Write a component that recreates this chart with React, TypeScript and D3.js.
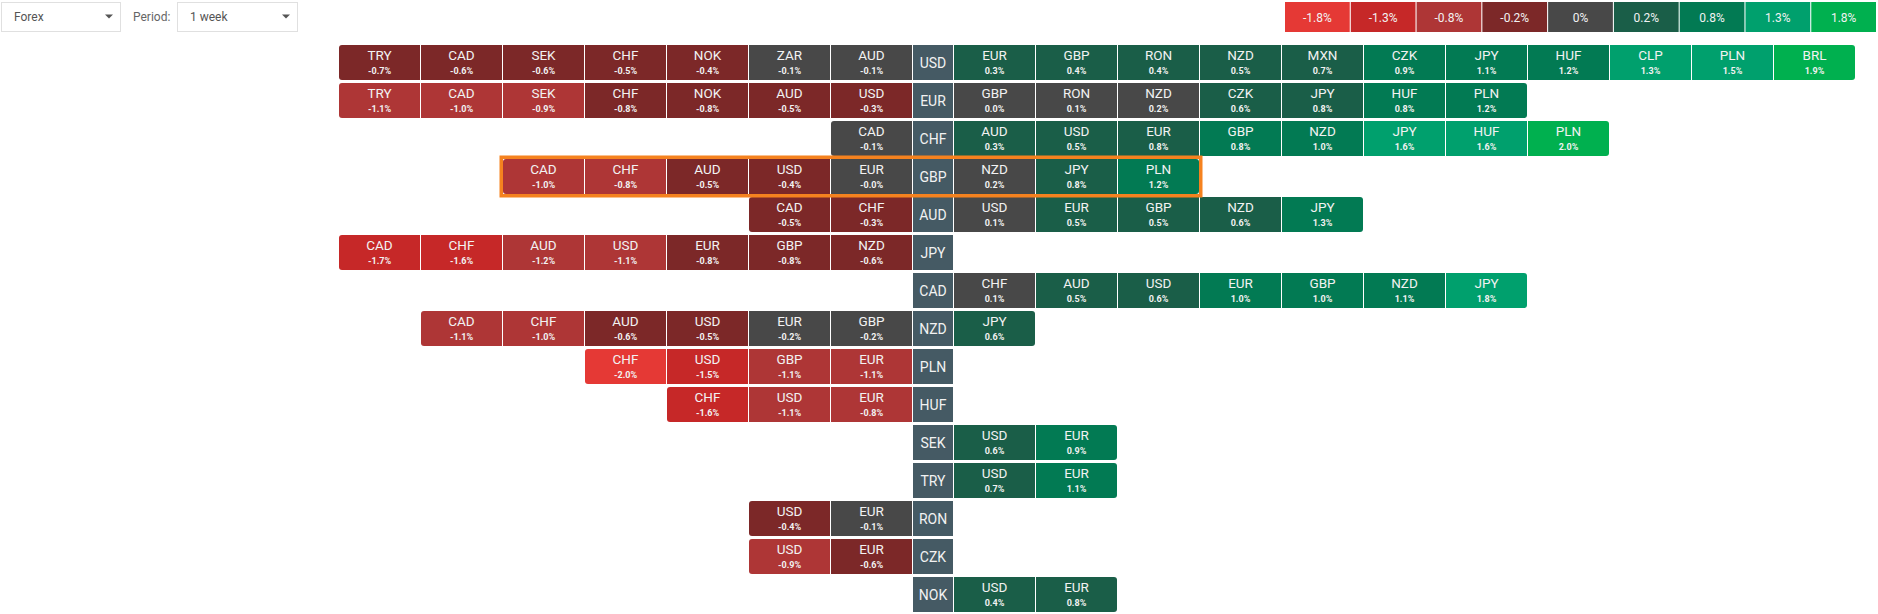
import React, { useEffect } from 'react';
import * as d3 from 'd3';

// ---------- DATA ----------
const rowCurrencies = ['USD', 'EUR', 'CHF', 'GBP', 'AUD', 'JPY', 'CAD', 'NZD', 'PLN', 'HUF', 'SEK', 'TRY', 'RON', 'CZK', 'NOK'];

const usdNames = ['TRY', 'CAD', 'SEK', 'CHF', 'NOK', 'ZAR', 'AUD', 'EUR', 'GBP', 'RON', 'NZD', 'MXN', 'CZK', 'JPY', 'HUF', 'CLP', 'PLN', 'BRL'];
const usdValues = [-0.7, -0.6, -0.6, -0.5, -0.4, -0.1, -0.1, 0.3, 0.4, 0.4, 0.5, 0.7, 0.9, 1.1, 1.2, 1.32, 1.5, 1.9];

const eurNames = ['TRY', 'CAD', 'SEK', 'CHF', 'NOK', 'AUD', 'USD', 'GBP', 'RON', 'NZD', 'CZK', 'JPY', 'HUF', 'PLN'];
const eurValues = [-1.1, -1.0, -0.9, -0.78, -0.77, -0.5, -0.3, 0.02, 0.1, 0.2, 0.6, 0.78, 0.82, 1.2];

const chfNames = ['CAD', 'AUD', 'USD', 'EUR', 'GBP', 'NZD', 'JPY', 'HUF', 'PLN'];
const chfValues = [-0.1, 0.3, 0.5, 0.78, 0.82, 1.0, 1.6, 1.62, 2.0];

const gbpNames = ['CAD', 'CHF', 'AUD', 'USD', 'EUR', 'NZD', 'JPY', 'PLN'];
const gbpValues = [-1.0, -0.82, -0.5, -0.4, -0.04, 0.2, 0.78, 1.2];

const audNames = ['CAD', 'CHF', 'USD', 'EUR', 'GBP', 'NZD', 'JPY'];
const audValues = [-0.5, -0.3, 0.1, 0.5, 0.5, 0.6, 1.28];

const jpyNames = ['CAD', 'CHF', 'AUD', 'USD', 'EUR', 'GBP', 'NZD'];
const jpyValues = [-1.7, -1.6, -1.2, -1.1, -0.78, -0.77, -0.6];

const cadNames = ['CHF', 'AUD', 'USD', 'EUR', 'GBP', 'NZD', 'JPY'];
const cadValues = [0.1, 0.5, 0.6, 1.0, 1.0, 1.1, 1.78];

const nzdNames = ['CAD', 'CHF', 'AUD', 'USD', 'EUR', 'GBP', 'JPY'];
const nzdValues = [-1.1, -1.0, -0.6, -0.5, -0.2, -0.2, 0.6];

const plnNames = ['CHF', 'USD', 'GBP', 'EUR'];
const plnValues = [-2.0, -1.5, -1.1, -1.1];

const hufNames = ['CHF', 'USD', 'EUR'];
const hufValues = [-1.6, -1.1, -0.82];

const sekNames = ['USD', 'EUR'];
const sekValues = [0.6, 0.9];

const tryNames = ['USD', 'EUR'];
const tryValues = [0.7, 1.1];

const ronNames = ['USD', 'EUR'];
const ronValues = [-0.4, -0.1];

const czkNames = ['USD', 'EUR'];
const czkValues = [-0.9, -0.6];

const nokNames = ['USD', 'EUR'];
const nokValues = [0.4, 0.78];

const rowNames = [usdNames, eurNames, chfNames, gbpNames, audNames, jpyNames, cadNames, nzdNames, plnNames, hufNames, sekNames, tryNames, ronNames, czkNames, nokNames];
const rowValues = [usdValues, eurValues, chfValues, gbpValues, audValues, jpyValues, cadValues, nzdValues, plnValues, hufValues, sekValues, tryValues, ronValues, czkValues, nokValues];

const legendLabels = ['-1.8%', '-1.3%', '-0.8%', '-0.2%', '0%', '0.2%', '0.8%', '1.3%', '1.8%'];
const colorThresholds = [-1.8, -1.3, -0.8, -0.25, 0.25, 0.8, 1.3, 1.8];
const palette = ['#e53935', '#c62828', '#ae3636', '#7c2828', '#484848', '#1a5e48', '#027a53', '#00a06d', '#00b04f'];

const highlightedRow = 'GBP';

// ---------- LAYOUT ----------
const W = 1878;
const H = 614;
const LABEL_X = 913;
const LABEL_W = 40;
const CELL_W = 81;
const STEP = 82;
const R = 3;

const color = d3.scaleThreshold<number, string>().domain(colorThresholds).range(palette);
const yScale = d3.scaleBand<string>().domain(rowCurrencies).range([45, 45 + 15 * 38 - 3]).paddingInner(3 / 38);
const colX = d3.scaleLinear().domain([0, 1]).range([LABEL_X + LABEL_W + 1, LABEL_X + LABEL_W + 1 + STEP]);
const legendX = d3.scaleBand<string>().domain(legendLabels).range([1285, 1876]).paddingInner(0.016);

function cellPath(x: number, y: number, w: number, h: number, rl: number, rr: number) {
  const p = d3.path();
  p.moveTo(x + rl, y);
  p.lineTo(x + w - rr, y);
  if (rr) p.arcTo(x + w, y, x + w, y + rr, rr);
  p.lineTo(x + w, y + h - rr);
  if (rr) p.arcTo(x + w, y + h, x + w - rr, y + h, rr);
  p.lineTo(x + rl, y + h);
  if (rl) p.arcTo(x, y + h, x, y + h - rl, rl);
  p.lineTo(x, y + rl);
  if (rl) p.arcTo(x, y, x + rl, y, rl);
  p.closePath();
  return p.toString();
}

const FONT = 'Roboto, "Noto Sans", Arial, sans-serif';
const TEXT = '#f2f2f2';

function Dropdown({ x, w, label }: { x: number; w: number; label: string }) {
  return (
    <g>
      <rect x={x + 0.5} y={2.5} width={w} height={29} fill="#fff" stroke="#e0e0e0" />
      <text x={x + 13} y={21} fontSize={12} fill="#555" fontFamily={FONT}>{label}</text>
      <path d={`M${x + w - 15},14.5 L${x + w - 7},14.5 L${x + w - 11},18.5 Z`} fill="#555" />
    </g>
  );
}

function Cell({ x, y, h, rl, rr, name, v }: { x: number; y: number; h: number; rl: number; rr: number; name: string; v: number }) {
  return (
    <g>
      <path d={cellPath(x, y, CELL_W, h, rl, rr)} fill={color(v)} />
      <text x={x + CELL_W / 2} y={y + 15} textAnchor="middle" fontSize={13.5} fill={TEXT} fontFamily={FONT}>{name}</text>
      <text x={x + CELL_W / 2} y={y + 28.5} textAnchor="middle" fontSize={9} fontWeight={700} fill={TEXT} fontFamily={FONT}>{v.toFixed(1)}%</text>
    </g>
  );
}

export default function App() {
  useEffect(() => {
    document.body.style.margin = '0';
  }, []);

  const cells: React.ReactNode[] = [];
  rowCurrencies.forEach((cur, r) => {
    const names = rowNames[r];
    const vals = rowValues[r];
    const y = yScale(cur)!;
    const h = yScale.bandwidth();
    const left = names.map((n, i) => ({ n, v: vals[i] })).filter((d) => d.v < 0);
    const right = names.map((n, i) => ({ n, v: vals[i] })).filter((d) => d.v >= 0);
    left.forEach((d, k) => {
      const idx = left.length - 1 - k;
      const x = colX(-(idx + 1)) - (LABEL_W + 1);
      cells.push(<Cell key={`${cur}-L-${d.n}`} x={x} y={y} h={h} rl={k === 0 ? R : 0} rr={0} name={d.n} v={d.v} />);
    });
    right.forEach((d, j) => {
      const x = colX(j);
      cells.push(<Cell key={`${cur}-R-${d.n}`} x={x} y={y} h={h} rl={0} rr={j === right.length - 1 ? R : 0} name={d.n} v={d.v} />);
    });
    cells.push(
      <g key={`${cur}-label`}>
        <rect x={LABEL_X} y={y} width={LABEL_W} height={h} fill="#455a64" />
        <text x={LABEL_X + LABEL_W / 2} y={y + h / 2 + 5} textAnchor="middle" fontSize={14} fill={TEXT} fontFamily={FONT}>{cur}</text>
      </g>
    );
  });

  const hr = rowCurrencies.indexOf(highlightedRow);
  const hVals = rowValues[hr];
  const nLeft = hVals.filter((v) => v < 0).length;
  const nRight = hVals.length - nLeft;
  const hx0 = colX(-nLeft) - (LABEL_W + 1);
  const hx1 = colX(nRight - 1) + CELL_W;
  const hy = yScale(highlightedRow)!;
  const hh = yScale.bandwidth();
  const sw = 3.5;

  return (
    <svg width={W} height={H} style={{ position: 'absolute', left: 0, top: 0, background: '#fff' }} fontFamily={FONT}>
      <Dropdown x={1} w={119} label="Forex" />
      <text x={133} y={21} fontSize={12} fill="#666" fontFamily={FONT}>Period:</text>
      <Dropdown x={177} w={120} label="1 week" />

      {legendLabels.map((l, i) => (
        <g key={l}>
          <rect x={legendX(l)!} y={2} width={legendX.bandwidth()} height={30} fill={palette[i]} />
          <text x={legendX(l)! + legendX.bandwidth() / 2} y={21.5} textAnchor="middle" fontSize={12} fill={TEXT} fontFamily={FONT}>{l}</text>
        </g>
      ))}

      {cells}

      <rect
        x={hx0 - sw / 2}
        y={hy - sw / 2}
        width={hx1 - hx0 + sw}
        height={hh + sw}
        fill="none"
        stroke="#f5821f"
        strokeWidth={sw}
      />
    </svg>
  );
}
